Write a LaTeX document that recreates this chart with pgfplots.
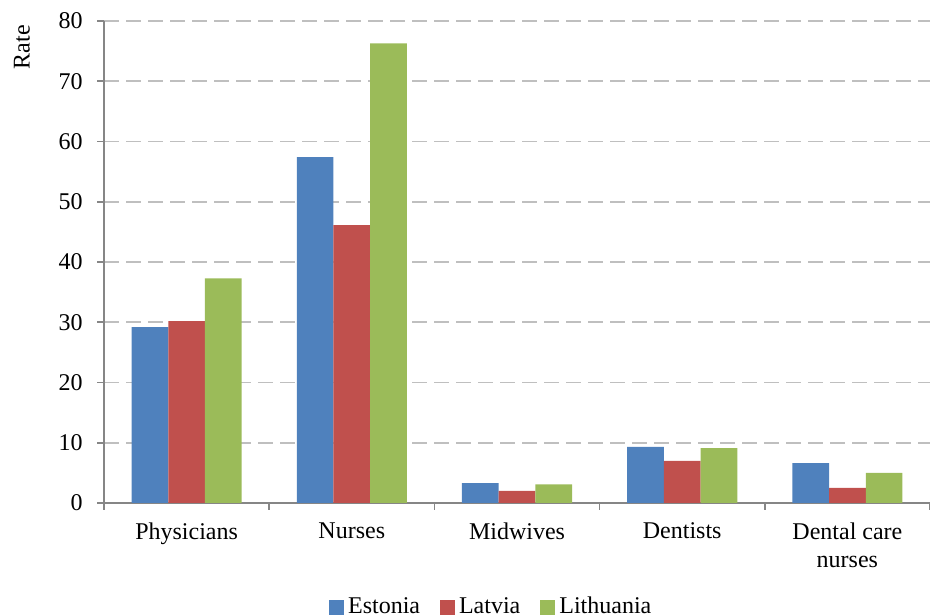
\documentclass[border=0pt]{standalone}
\usepackage{fontspec}
\setmainfont{Liberation Serif}
\usepackage{pgfplots}
\pgfplotsset{compat=1.18}
\definecolor{cEst}{HTML}{4F81BD}
\definecolor{cLat}{HTML}{C0504D}
\definecolor{cLit}{HTML}{9BBB59}
\definecolor{axgray}{HTML}{868686}
\definecolor{gridgray}{HTML}{BFBFBF}
\begin{document}
\rmfamily\fontsize{12pt}{14pt}\selectfont
\begin{tikzpicture}[font=\rmfamily\fontsize{12pt}{14pt}\selectfont]
\begin{axis}[
  name=ax,
  scale only axis,
  width=413pt, height=241pt,
  ybar=0pt, bar width=18.35pt,
  xmin=-0.5, xmax=4.5,
  ymin=0, ymax=80,
  ytick={0,10,...,80},
  xtick={-0.5,0.5,1.5,2.5,3.5,4.5},
  xticklabels={},
  extra x ticks={0,1,2,3,4},
  extra x tick labels={Physicians,Nurses,Midwives,Dentists,{Dental care\\nurses}},
  extra x tick style={major tick length=0pt, grid=none,
    tick label style={align=center, yshift=-5.5pt, font=\rmfamily\fontsize{12pt}{14pt}\selectfont}},
  tick align=outside,
  major tick length=3.5pt,
  tick style={axgray, line width=0.8pt},
  axis x line*=bottom,
  axis y line*=left,
  axis line style={axgray, line width=0.8pt, -},
  ymajorgrids,
  xmajorgrids=false,
  grid style={gridgray, line width=0.8pt, dash pattern=on 7.5pt off 3.5pt},
  /pgf/number format/assume math mode=true,
  yticklabel style={xshift=-3pt, font=\rmfamily\fontsize{12pt}{14pt}\selectfont},
  ylabel={Rate},
  ylabel style={at={(axis description cs:-0.0993,0.946)}, anchor=center, font=\rmfamily\fontsize{12pt}{14pt}\selectfont},
  legend columns=-1,
  legend style={draw=none, fill=none, at={(axis description cs:0.47,-0.216)}, anchor=center,
    /tikz/every even column/.append style={column sep=8pt}, inner sep=0pt,
    font=\rmfamily\fontsize{12pt}{14pt}\selectfont},
  legend image code/.code={\fill[#1] (0pt,-3.75pt) rectangle (7.5pt,3.75pt);},
]
\addplot[fill=cEst, draw=none] coordinates {(0,29.2) (1,57.4) (2,3.3) (3,9.3) (4,6.6)};
\addplot[fill=cLat, draw=none] coordinates {(0,30.2) (1,46.1) (2,2.0) (3,7.0) (4,2.5)};
\addplot[fill=cLit, draw=none] coordinates {(0,37.3) (1,76.3) (2,3.1) (3,9.1) (4,5.0)};
\legend{Estonia,Latvia,Lithuania}
\end{axis}
\pgfresetboundingbox
\path[use as bounding box] ([shift={(-52pt,-56.5pt)}]ax.south west) rectangle ([shift={(0pt,10.5pt)}]ax.north east);
\end{tikzpicture}
\end{document}
